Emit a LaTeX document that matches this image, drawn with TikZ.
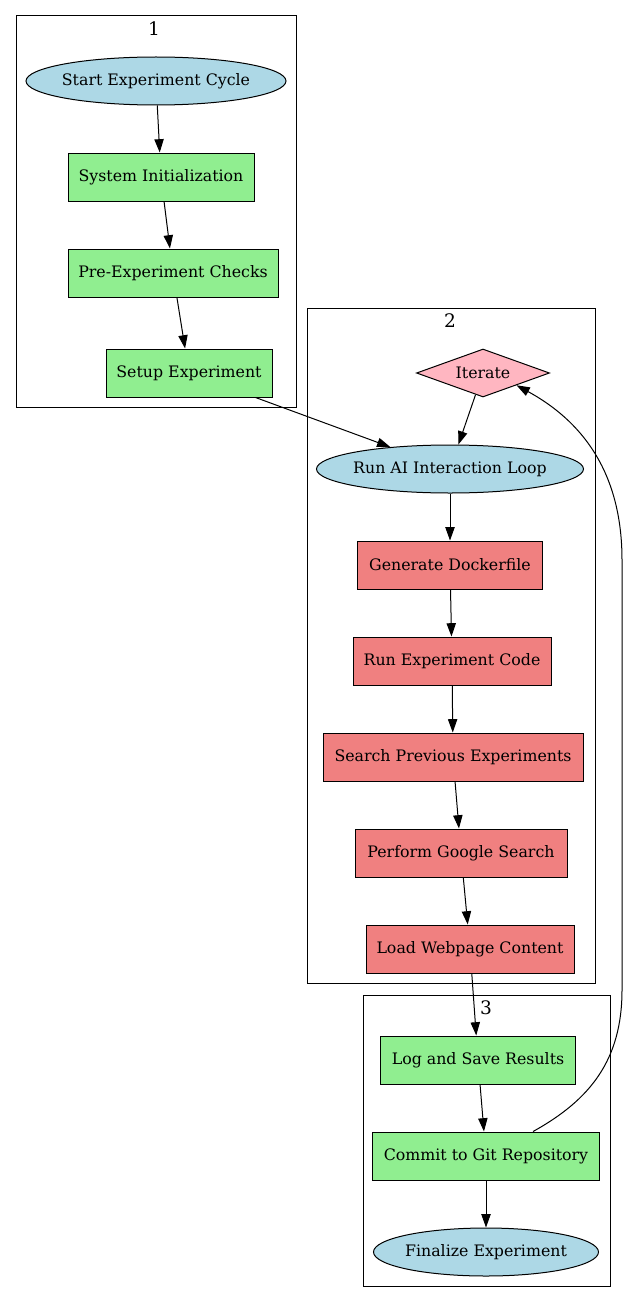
\documentclass[tikz,border=0pt]{standalone}
\usepackage{fontspec}
\setmainfont{DejaVu Serif}
\usepackage{tikz}
\usetikzlibrary{shapes.geometric,arrows.meta}

\definecolor{lightblue}{HTML}{ADD8E6}
\definecolor{lightgreen}{HTML}{90EE90}
\definecolor{lightcoral}{HTML}{F08080}
\definecolor{lightpink}{HTML}{FFB6C1}

\tikzset{
	every node/.style={font=\fontsize{15.8}{18}\selectfont},
	endpoint/.style={ellipse, draw, fill=lightblue, minimum height=48pt, inner xsep=-4pt, inner ysep=0pt},
	setup/.style={rectangle, draw, fill=lightgreen, minimum height=48pt, inner sep=0pt},
	work/.style={rectangle, draw, fill=lightcoral, minimum height=48pt, inner sep=0pt},
	choice/.style={diamond, draw, fill=lightpink, aspect=2.77, inner sep=0pt, minimum height=48pt, minimum width=133pt},
	cluster/.style={draw, line width=1pt},
	clabel/.style={font=\fontsize{18.6}{21}\selectfont},
}

\begin{document}
\begin{tikzpicture}[x=1pt, y=-1pt, line width=1pt, >={Triangle[length=13.3pt,width=9.3pt]}]
		\useasboundingbox (0,0) rectangle (628,1303);
		% clusters
		\draw[cluster] (16,16) rectangle (296,407);
		\draw[cluster] (307,308) rectangle (595,983);
		\draw[cluster] (363,995) rectangle (610,1286);
		\node[clabel] (c1) at (154,29) {1};
		\node[clabel] (c2) at (450,321) {2};
		\node[clabel] (c3) at (486,1008) {3};
		\draw
			(156,81) node [endpoint, minimum width=260pt] (start) {Start Experiment Cycle}
			(161,177) node [setup, minimum width=186pt] (init) {System Initialization}
			(173,273) node [setup, minimum width=210pt] (checks) {Pre-Experiment Checks}
			(189,373) node [setup, minimum width=166pt] (exp) {Setup Experiment}
			(483,373) node [choice] (iter) {Iterate}
			(450,469) node [endpoint, minimum width=267pt] (loop) {Run AI Interaction Loop}
			(450,565) node [work, minimum width=185pt] (docker) {Generate Dockerfile}
			(452,661) node [work, minimum width=198pt] (code) {Run Experiment Code}
			(453,757) node [work, minimum width=260pt] (prev) {Search Previous Experiments}
			(461,853) node [work, minimum width=212pt] (google) {Perform Google Search}
			(470,949) node [work, minimum width=208pt] (web) {Load Webpage Content}
			(478,1060) node [setup, minimum width=195pt] (log) {Log and Save Results}
			(486,1156) node [setup, minimum width=227pt] (git) {Commit to Git Repository}
			(486,1252) node [endpoint, minimum width=225pt] (final) {Finalize Experiment}
			;
		\draw[->]
			(start) edge (init)
			(init) edge (checks)
			(checks) edge (exp)
			(exp) edge (loop)
			(iter) edge (loop)
			(loop) edge (docker)
			(docker) edge (code)
			(code) edge (prev)
			(prev) edge (google)
			(google) edge (web)
			(web) edge (log)
			(log) edge (git)
			(git) edge (final)
			;
		\draw[->] ([xshift=47pt]git.north) .. controls (590,1100) and (622,1060) .. (622,990)
			-- (622,560) .. controls (622,470) and (580,420) .. (iter.south east);
	\end{tikzpicture}
\end{document}
